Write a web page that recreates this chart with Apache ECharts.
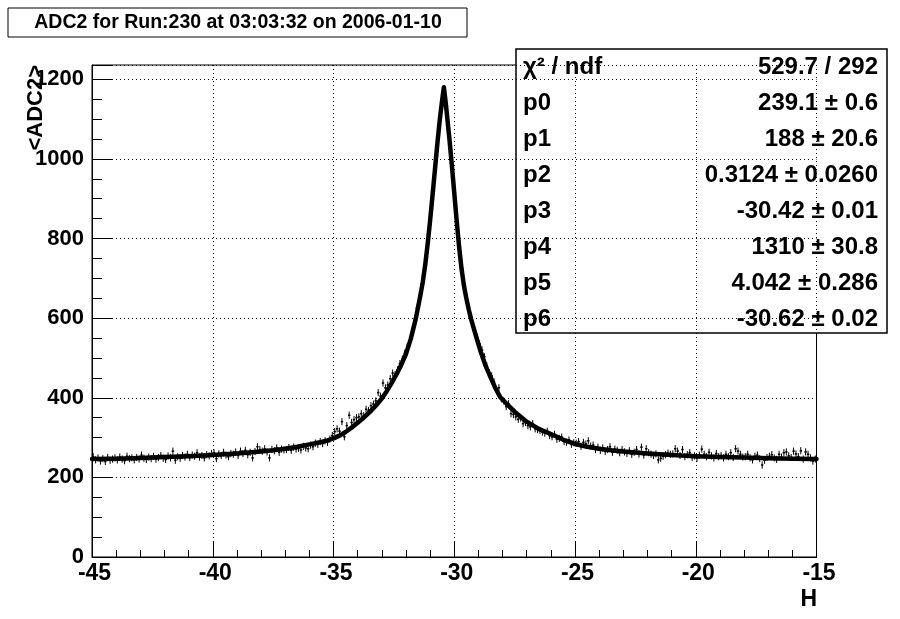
<!DOCTYPE html>
<html><head><meta charset="utf-8">
<script src="https://cdn.jsdelivr.net/npm/echarts@6/dist/echarts.min.js"></script>
<style>html,body{margin:0;padding:0;background:#fff}#c{width:900px;height:619px}</style>
</head><body><div id="c"></div>
<script>
// ---- data ----
const titleText = 'ADC2 for Run:230 at 03:03:32 on 2006-01-10';
const xTitle = 'H';
const yTitle = '<ADC2>';
const histMin = -45, histMax = -15, nBins = 300;
const yMax = 1236;
const xTickStep = 5, yTickStep = 200;
const errBar = 9;
// bin contents, 10 bins per unit of H
const adcValues = [
  252,244,249,241,247,240,250,243,246,249,
  244,251,246,242,253,247,249,244,250,246,
  256,248,245,251,247,253,246,250,255,248,
  245,254,249,266,243,252,248,255,251,258,
  250,256,253,262,251,255,249,257,254,260,
  262,247,259,255,263,256,252,260,258,264,
  255,266,260,268,257,263,249,265,277,270,
  266,272,264,249,270,267,274,263,271,269,
  270,275,268,276,271,273,269,278,274,272,
  281,277,286,283,290,285,292,288,296,305,
  315,322,316,340,302,330,356,338,345,350,
  352,360,355,371,368,380,384,392,413,404,
  437,425,432,448,462,458,470,486,497,512,
  528,534,560,592,625,650,683,712,758,815,
  872,935,1000,1062,1118,1160,1135,1072,1015,950,
  875,800,745,705,668,630,610,590,570,552,
  535,520,503,480,462,455,440,418,425,397,
  392,378,385,360,358,352,346,349,335,338,
  330,327,335,322,320,318,314,311,316,305,
  302,308,296,298,301,290,288,294,283,287,
  286,290,278,288,284,292,279,281,270,276,
  268,274,265,270,277,263,271,268,262,270,
  264,260,267,258,263,270,259,276,256,272,
  262,258,255,259,244,248,253,257,261,258,
  259,272,266,255,270,252,257,262,250,254,
  248,256,271,258,252,263,254,249,260,252,
  255,249,258,252,262,250,272,266,258,251,
  252,258,249,244,253,256,247,231,243,250,
  253,257,249,245,258,251,262,264,254,250,
  266,259,252,267,246,264,258,249,241,246
];
// fitted function
const fitX = [-45,-44,-43,-42,-41,-40,-39,-38,-37.5,-37,-36.5,-36,-35.5,-35.25,-35,-34.75,-34.5,-34.25,-34,-33.75,-33.5,-33.25,-33,-32.8,-32.6,-32.4,-32.2,-32,-31.8,-31.6,-31.5,-31.4,-31.3,-31.2,-31.1,-31,-30.9,-30.8,-30.7,-30.6,-30.5,-30.43,-30.35,-30.3,-30.2,-30.1,-30,-29.9,-29.8,-29.7,-29.6,-29.5,-29.4,-29.3,-29.1,-28.9,-28.7,-28.5,-28.3,-28.1,-27.8,-27.5,-27,-26.5,-26,-25.5,-25,-24.5,-24,-23.5,-23,-22,-21,-20,-19,-18,-17,-16,-15];
const fitY = [246,247,249,251,253,256,260,265,268,272,277,283,289,293,298,305,314,325,337,350,364,380,398,416,436,458,482,510,548,597,627,658,692,735,787,845,908,973,1038,1098,1148,1180,1140,1110,1050,985,915,845,780,725,682,650,622,597,555,515,480,452,425,402,383,365,340,322,309,295,284,277,272,268,265,260,256,253,251,250,248,247,246];
// stats box
const statLabels = ['χ² / ndf','p0','p1','p2','p3','p4','p5','p6'];
const statValues = ['529.7 / 292','239.1 ± 0.6','188 ± 20.6','0.3124 ± 0.0260','-30.42 ± 0.01','1310 ± 30.8','4.042 ± 0.286','-30.62 ± 0.02'];

// ---- build ----
const binW = (histMax - histMin) / nBins;
const points = adcValues.map((v, i) => [histMin + (i + 0.5) * binW, v, errBar]);
const fitData = fitX.map((x, i) => [x, fitY[i]]);
const FONT = '"Liberation Sans", Arial, Helvetica, sans-serif';

const chart = echarts.init(document.getElementById('c'), null, {renderer: 'canvas'});

const statsChildren = [{
  type: 'rect', shape: {x: 516, y: 49, width: 371, height: 284},
  style: {fill: '#fff', stroke: '#000', lineWidth: 1.5}
}];
statLabels.forEach((t, i) => {
  statsChildren.push({type: 'text', x: 523, y: 67 + 36 * i,
    style: {text: t, font: 'bold 24px ' + FONT, fill: '#000', textAlign: 'left', textVerticalAlign: 'middle'}});
  statsChildren.push({type: 'text', x: 878, y: 67 + 36 * i,
    style: {text: statValues[i], font: 'bold 24px ' + FONT, fill: '#000', textAlign: 'right', textVerticalAlign: 'middle'}});
});

const option = {
  animation: false,
  backgroundColor: '#fff',
  grid: {left: 92, right: 83.5, top: 65, bottom: 62, show: true, borderColor: '#000', borderWidth: 1, backgroundColor: 'transparent'},
  xAxis: {
    type: 'value', min: histMin, max: histMax, interval: xTickStep,
    axisLine: {show: true, onZero: false, lineStyle: {color: '#000', width: 1}},
    axisTick: {show: true, inside: true, length: 15, lineStyle: {color: '#000', width: 1}},
    minorTick: {show: true, splitNumber: 5, length: 7, lineStyle: {color: '#000', width: 1}},
    axisLabel: {color: '#000', fontFamily: FONT, fontWeight: 'bold', fontSize: 23, margin: 5, padding: [0, 0, 0, 5], showMinLabel: true, showMaxLabel: true},
    splitLine: {show: true, lineStyle: {color: '#000', width: 1, type: [1, 3]}},
    minorSplitLine: {show: false}
  },
  yAxis: {
    type: 'value', min: 0, max: yMax, interval: yTickStep,
    axisLine: {show: true, onZero: false, lineStyle: {color: '#000', width: 1}},
    axisTick: {show: true, inside: true, length: 20, lineStyle: {color: '#000', width: 1}},
    minorTick: {show: true, splitNumber: 4, length: 10, lineStyle: {color: '#000', width: 1}},
    axisLabel: {color: '#000', fontFamily: FONT, fontWeight: 'bold', fontSize: 22, margin: 8,
      formatter: v => (v % yTickStep === 0 ? String(v) : '')},
    splitLine: {show: true, lineStyle: {color: '#000', width: 1, type: [1, 3]}}
  },
  series: [{
    type: 'custom', name: 'data', data: points, z: 3,
    renderItem: function (params, api) {
      const x = api.value(0), y = api.value(1), e = api.value(2);
      const t = api.coord([x, y + e]), b = api.coord([x, y - e]);
      const l = api.coord([x - binW / 2, y]), r = api.coord([x + binW / 2, y]);
      return {type: 'group', children: [
        {type: 'line', shape: {x1: t[0], y1: t[1], x2: b[0], y2: b[1]}, style: {stroke: '#000', lineWidth: 1}},
        {type: 'line', shape: {x1: l[0], y1: l[1], x2: r[0], y2: r[1]}, style: {stroke: '#000', lineWidth: 1.5}}
      ]};
    }
  }, {
    type: 'line', name: 'fit', data: fitData, showSymbol: false, symbol: 'none', smooth: false, z: 4,
    lineStyle: {color: '#000', width: 4.5, join: 'round', cap: 'round'}
  }],
  graphic: [
    {type: 'group', z: 100, children: [
      {type: 'rect', shape: {x: 8, y: 8, width: 459, height: 29}, style: {fill: '#fff', stroke: '#000', lineWidth: 1}},
      {type: 'text', x: 238, y: 23, style: {text: titleText, font: 'bold 19.5px ' + FONT, fill: '#000', textAlign: 'center', textVerticalAlign: 'middle'}}
    ]},
    {type: 'group', z: 100, children: statsChildren},
    {type: 'text', z: 100, x: 36, y: 65, rotation: Math.PI / 2,
      style: {text: yTitle, font: 'bold 22px ' + FONT, fill: '#000', textAlign: 'right', textVerticalAlign: 'middle'}},
    {type: 'text', z: 100, x: 817, y: 600,
      style: {text: xTitle, font: 'bold 23px ' + FONT, fill: '#000', textAlign: 'right', textVerticalAlign: 'middle'}}
  ]
};
chart.setOption(option);
</script>
</body></html>
